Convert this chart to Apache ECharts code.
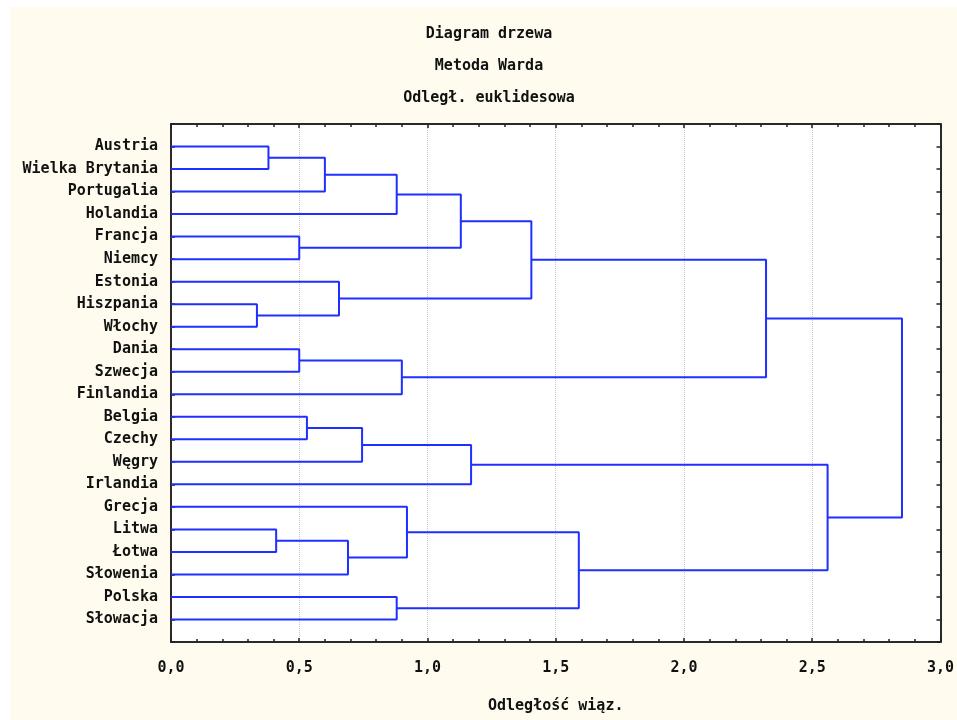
<!DOCTYPE html>
<html>
<head>
<meta charset="utf-8">
<script src="https://cdn.jsdelivr.net/npm/echarts@6/dist/echarts.min.js"></script>
<style>
html,body{margin:0;padding:0;background:#fff;}
#c{width:957px;height:720px;}
</style>
</head>
<body>
<div id="c"></div>
<script>
// Leaves (top to bottom)
var leaves = ['Austria','Wielka Brytania','Portugalia','Holandia','Francja','Niemcy','Estonia','Hiszpania','Włochy','Dania','Szwecja','Finlandia','Belgia','Czechy','Węgry','Irlandia','Grecja','Litwa','Łotwa','Słowenia','Polska','Słowacja'];
// Merges: [childA, childB]; leaves are 0..21, merged nodes get ids 22, 23, ...
var mergePairs = [
  [0,1],[22,2],[23,3],[4,5],[24,25],[7,8],[6,27],[26,28],
  [9,10],[30,11],[29,31],
  [12,13],[33,14],[34,15],[17,18],[36,19],[16,37],[20,21],[38,39],[35,40],
  [32,41]
];
// Linkage distances for each merge
var mergeHeights = [
  0.38,0.60,0.88,0.50,1.13,0.335,0.655,1.405,
  0.50,0.90,2.32,
  0.53,0.745,1.17,0.41,0.69,0.92,0.88,1.59,2.56,
  2.85
];
var xTicks = [0,0.5,1.0,1.5,2.0,2.5,3.0];
var titles = ['Diagram drzewa','Metoda Warda','Odległ. euklidesowa'];
var xName = 'Odległość wiąz.';

var FONT = 'DejaVu Sans Mono';
var FW = 'bold';
var nodeY = [], nodeH = [];
for (var i = 0; i < leaves.length; i++) { nodeY.push(i); nodeH.push(0); }
var series = [];
mergePairs.forEach(function (p, k) {
  var a = p[0], b = p[1], h = mergeHeights[k];
  series.push({
    type: 'line', xAxisIndex: 0, yAxisIndex: 0,
    symbol: 'none', silent: true, animation: false,
    lineStyle: {color: '#1f2fff', width: 2},
    data: [[nodeH[a], nodeY[a]], [h, nodeY[a]], [h, nodeY[b]], [nodeH[b], nodeY[b]]],
    z: 3
  });
  nodeY.push((nodeY[a] + nodeY[b]) / 2);
  nodeH.push(h);
});

function axisLine() { return {show: true, onZero: false, lineStyle: {color: '#2a2a2a', width: 2}}; }
var tick = {show: true, inside: true, length: 4, lineStyle: {color: '#222', width: 1.5}};
var chart = echarts.init(document.getElementById('c'), null, {renderer: 'canvas'});
chart.setOption({
  backgroundColor: '#fffcef',
  animation: false,
  title: titles.map(function (t, i) {
    return {text: t, left: 489, top: 27 + i * 32, textAlign: 'center', padding: 0,
      textStyle: {fontFamily: FONT, fontSize: 15, fontWeight: FW, color: '#111'}};
  }),
  graphic: [
    {type: 'rect', left: 0, top: 0, shape: {width: 957, height: 7}, style: {fill: '#fff'}, z: -10},
    {type: 'rect', left: 0, top: 0, shape: {width: 10, height: 720}, style: {fill: '#fff'}, z: -10},
    {type: 'rect', left: 171, top: 124, shape: {width: 771, height: 518}, style: {fill: '#fff'}, z: -10}
  ],
  grid: {left: 171, top: 124, right: 15, bottom: 78, containLabel: false},
  xAxis: [
    {type: 'value', position: 'bottom', min: xTicks[0], max: xTicks[xTicks.length - 1], interval: 0.5,
      axisLine: axisLine(), axisTick: tick,
      minorTick: {show: true, splitNumber: 5, length: 3, lineStyle: {color: '#222', width: 1.5}},
      splitLine: {show: true, lineStyle: {color: '#c4c4c4', type: 'dotted', width: 1}},
      axisLabel: {margin: 19, fontFamily: FONT, fontSize: 15, fontWeight: FW, color: '#111',
        formatter: function (v) { return v.toFixed(1).replace('.', ','); }},
      name: xName, nameLocation: 'middle', nameGap: 57,
      nameTextStyle: {fontFamily: FONT, fontSize: 15, fontWeight: FW, color: '#111'}
    },
    {type: 'value', position: 'top', min: 0, max: 3, interval: 0.5,
      axisLine: axisLine(), axisTick: tick,
      minorTick: {show: true, splitNumber: 5, length: 3, lineStyle: {color: '#222', width: 1.5}},
      splitLine: {show: false}, axisLabel: {show: false}
    }
  ],
  yAxis: [
    {type: 'value', position: 'left', min: -1, max: leaves.length, interval: 1, inverse: true,
      axisLine: axisLine(), axisTick: tick,
      splitLine: {show: false},
      axisLabel: {margin: 13, fontFamily: FONT, fontSize: 15, fontWeight: FW, color: '#111',
        formatter: function (v) { return leaves[v] || ''; }}
    },
    {type: 'value', position: 'right', min: -1, max: leaves.length, interval: 1, inverse: true,
      axisLine: axisLine(), axisTick: tick,
      splitLine: {show: false}, axisLabel: {show: false}
    }
  ],
  series: series
});
</script>
</body>
</html>
